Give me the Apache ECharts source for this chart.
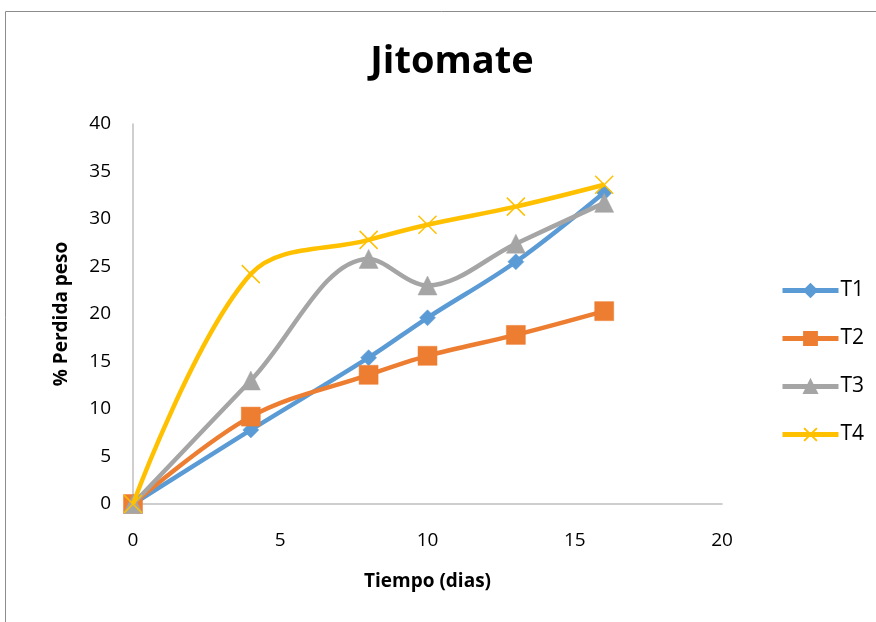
<!DOCTYPE html>
<html>
<head>
<meta charset="utf-8">
<script src="https://cdn.jsdelivr.net/npm/echarts@6/dist/echarts.min.js"></script>
<style>
  html, body { margin: 0; padding: 0; background: #fff; }
  #chart { width: 876px; height: 622px; }
</style>
</head>
<body>
<div id="chart"></div>
<script>
// Weight loss (%) of tomatoes over storage days, four treatments
var days = [0, 4, 8, 10, 13, 16];
var t1 = [0, 7.8, 15.4, 19.6, 25.5, 32.8];
var t2 = [0, 9.2, 13.6, 15.6, 17.8, 20.3];
var t3 = [0, 13.0, 25.8, 23.0, 27.4, 31.7];
var t4 = [0, 24.2, 27.8, 29.4, 31.3, 33.6];
var seriesNames = ['T1', 'T2', 'T3', 'T4'];
var xTicks = [0, 5, 10, 15, 20];
var yTicks = [0, 5, 10, 15, 20, 25, 30, 35, 40];

var FONT = '"Open Sans", "Noto Sans", sans-serif';
var colors = ['#5B9BD5', '#ED7D31', '#A5A5A5', '#FFC000'];
var symbols = ['diamond', 'rect', 'triangle', 'path://M0,0L10,10M10,0L0,10'];
var symbolSizes = [16, 19, 19, 18];

function pairs(vals) {
  return days.map(function (d, i) { return [d, vals[i]]; });
}

var allValues = [t1, t2, t3, t4];
var series = seriesNames.map(function (name, i) {
  var isCross = i === 3;
  return {
    name: name,
    type: 'line',
    data: pairs(allValues[i]),
    smooth: 0.35,
    symbol: symbols[i],
    symbolSize: symbolSizes[i],
    showAllSymbol: true,
    lineStyle: { color: colors[i], width: 4.5 },
    itemStyle: isCross
      ? { color: colors[i], borderColor: colors[i], borderWidth: 1.5 }
      : { color: colors[i], borderColor: colors[i], borderWidth: 0.5 },
    emphasis: { disabled: true },
    z: 2 + i
  };
});

var chart = echarts.init(document.getElementById('chart'), null, { renderer: 'canvas' });
chart.setOption({
  animation: false,
  backgroundColor: '#ffffff',
  color: colors,
  graphic: [{
    type: 'rect',
    shape: { x: 5.5, y: 11.5, width: 900, height: 700 },
    style: { fill: 'none', stroke: '#8c8c8c', lineWidth: 1 },
    silent: true
  }],
  title: {
    text: 'Jitomate',
    left: 447,
    textAlign: 'center',
    top: 38,
    textStyle: { fontFamily: FONT, fontSize: 38, fontWeight: 'bold', color: '#000' }
  },
  legend: {
    orient: 'vertical',
    left: 775,
    top: 275,
    itemWidth: 56,
    itemHeight: 16,
    itemGap: 27,
    data: seriesNames,
    lineStyle: { width: 5 },
    textStyle: { fontFamily: FONT, fontSize: 21, color: '#000', padding: [0, 0, 0, -3] }
  },
  grid: { left: 133, top: 124, right: 154, bottom: 118, containLabel: false },
  xAxis: {
    type: 'value',
    min: xTicks[0],
    max: xTicks[xTicks.length - 1],
    interval: 5,
    name: 'Tiempo (dias)',
    nameLocation: 'middle',
    nameGap: 68,
    nameTextStyle: { fontFamily: FONT, fontSize: 19, fontWeight: 'bold', color: '#000' },
    axisLine: { show: true, lineStyle: { color: '#bfbfbf', width: 1.5 } },
    axisTick: { show: false },
    splitLine: { show: false },
    axisLabel: { fontFamily: FONT, fontSize: 19, color: '#000', margin: 27 }
  },
  yAxis: {
    type: 'value',
    min: yTicks[0],
    max: yTicks[yTicks.length - 1],
    interval: 5,
    name: '% Perdida peso',
    nameLocation: 'middle',
    nameGap: 62,
    nameRotate: 90,
    nameTextStyle: { fontFamily: FONT, fontSize: 19, fontWeight: 'bold', color: '#000' },
    axisLine: { show: true, lineStyle: { color: '#bfbfbf', width: 1.5 } },
    axisTick: { show: false },
    splitLine: { show: false },
    axisLabel: { fontFamily: FONT, fontSize: 19, color: '#000', margin: 22 }
  },
  series: series
});
</script>
</body>
</html>
